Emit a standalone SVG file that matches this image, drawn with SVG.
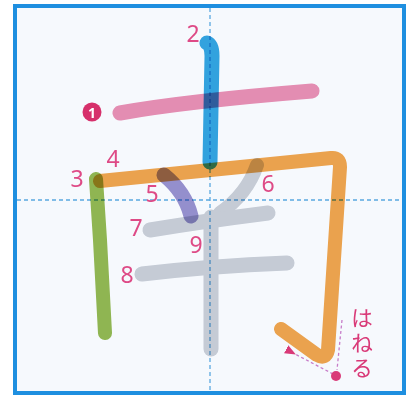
<svg xmlns="http://www.w3.org/2000/svg" width="416" height="401" viewBox="0 0 416 401">
<style>
.st{fill:none;stroke-linecap:round;stroke-linejoin:round;mix-blend-mode:multiply}
.gr{fill:none;stroke-linecap:round;stroke-linejoin:round;stroke:#ccd0d7}
.num{font-family:"Noto Sans","DejaVu Sans",sans-serif;font-size:23px;fill:#de4a86;text-anchor:middle}
.guide{stroke:#5aa8e0;stroke-width:1.3;stroke-dasharray:4 3;fill:none}
.jp{font-family:"Noto Sans CJK JP",sans-serif;font-size:22px;fill:#d93a78}
</style>
<defs>
<marker id="ah" markerWidth="11" markerHeight="9" refX="1" refY="4.5" orient="auto-start-reverse" markerUnits="userSpaceOnUse">
<path d="M0,4.5 L11,0 L11,9 Z" fill="#d93a78"/>
</marker>
</defs>
<rect x="0" y="0" width="416" height="401" fill="#ffffff"/>
<rect x="15" y="6" width="389" height="387" fill="#f6f9fd" stroke="#1e8fe0" stroke-width="4"/>
<g id="guides">
<line class="guide" x1="210" y1="8" x2="210" y2="391"/>
<line class="guide" x1="17" y1="200" x2="402" y2="200"/>
</g>
<g id="strokes">
<path id="s1" class="st" d="M120,113 C170,104 250,96 312,91" stroke="#ec90b4" stroke-width="15"/>
<path id="s2" class="st" d="M207,43 Q212,45 212,56 L210,162" stroke="#34a6e0" stroke-width="15"/>
<path id="s3" class="st" d="M96,179 L100,240 L105,333" stroke="#94ba52" stroke-width="14"/>
<path id="s4" class="st" d="M100,181 L331,158 Q340,157 340,167 L328,350 Q326,360 317,355 L281,329" stroke="#f3a64e" stroke-width="14"/>
<path id="s5" class="st" d="M164,175 Q185,192 191,216" stroke="#9a92cf" stroke-width="15"/>
<g id="grays" style="mix-blend-mode:multiply">
<path id="s6" class="gr" d="M257,165 Q247,194 220,213" stroke-width="14"/>
<path id="s7" class="gr" d="M150,230 Q205,221 268,213" stroke-width="15"/>
<path id="s8" class="gr" d="M142,274 Q210,266 287,263" stroke-width="15"/>
<path id="s9" class="gr" d="M211,217 L211,349" stroke-width="15"/>
</g>
</g>
<g id="labels">
<circle cx="92" cy="112" r="9.5" fill="#d6306b"/>
<text x="92" y="118" font-family="Noto Sans,DejaVu Sans,sans-serif" font-size="14" font-weight="bold" fill="#ffffff" text-anchor="middle">1</text>
<text class="num" x="193" y="42">2</text>
<text class="num" x="77" y="187">3</text>
<text class="num" x="113" y="167">4</text>
<text class="num" x="152" y="202">5</text>
<text class="num" x="268" y="192">6</text>
<text class="num" x="136" y="236">7</text>
<text class="num" x="127" y="283">8</text>
<text class="num" x="196" y="253">9</text>
</g>
<g id="hane">
<line x1="342" y1="320" x2="337" y2="370" stroke="#c77cc8" stroke-width="1.3" stroke-dasharray="3 2.5"/>
<line x1="333" y1="374" x2="295" y2="354" stroke="#c77cc8" stroke-width="1.3" stroke-dasharray="3 2.5" marker-end="url(#ah)"/>
<circle cx="336" cy="376" r="5" fill="#d93a78"/>
<text class="jp" x="362" y="307" writing-mode="tb" letter-spacing="3">はねる</text>
</g>
</svg>
